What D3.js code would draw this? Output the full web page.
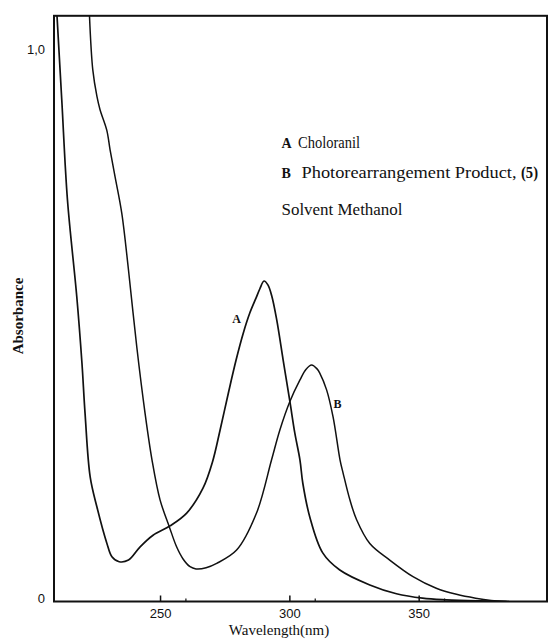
<!DOCTYPE html>
<html><head><meta charset="utf-8">
<script src="https://cdn.jsdelivr.net/npm/d3@7"></script>
<style>body{margin:0;background:#fff}</style>
</head><body>
<svg id="chart" width="549" height="641"></svg>
<script>
// ---- data ----
const wavelengthA = [210.1, 212.0, 214.2, 217.8, 219.8, 221.0, 223.0, 225.6, 229.4, 231.4, 234.2, 237.8, 242.3, 247.3, 253.9, 260.3, 266.6, 270.3, 273.2, 276.4, 279.4, 282.2, 284.7, 287.1, 288.6, 290.2, 291.7, 293.2, 295.1, 297.6, 300.2, 302.1, 304.1, 305.2, 307.9, 312.9, 319.5, 331.1, 341.4, 351.5, 360.7, 373.6, 385.0];
const absorbanceA = [1.065, 0.908, 0.727, 0.552, 0.432, 0.341, 0.225, 0.171, 0.106, 0.081, 0.072, 0.075, 0.099, 0.120, 0.137, 0.160, 0.205, 0.253, 0.310, 0.377, 0.437, 0.486, 0.522, 0.549, 0.566, 0.580, 0.573, 0.553, 0.510, 0.437, 0.362, 0.305, 0.256, 0.214, 0.153, 0.088, 0.057, 0.030, 0.014, 0.006, 0.003, 0.001, 0.000];

const wavelengthB = [222.7, 224.0, 225.6, 226.8, 229.4, 230.7, 232.6, 235.2, 237.8, 241.0, 244.2, 246.9, 250.0, 253.6, 256.4, 258.9, 261.6, 263.9, 267.8, 271.9, 279.6, 287.3, 293.1, 296.3, 300.2, 304.1, 306.4, 308.6, 310.7, 311.8, 314.4, 316.9, 319.6, 320.8, 323.4, 326.0, 331.1, 338.8, 347.8, 356.8, 364.6, 372.0, 378.0, 384.0];
const absorbanceB = [1.062, 0.962, 0.914, 0.890, 0.853, 0.817, 0.769, 0.703, 0.600, 0.461, 0.341, 0.256, 0.184, 0.135, 0.099, 0.077, 0.063, 0.059, 0.061, 0.069, 0.093, 0.160, 0.256, 0.310, 0.362, 0.401, 0.420, 0.428, 0.421, 0.413, 0.383, 0.334, 0.256, 0.232, 0.184, 0.148, 0.105, 0.075, 0.045, 0.024, 0.013, 0.006, 0.002, 0.000];

const xTicks = [250, 300, 350];
const xMinorTicks = [260, 310, 360];
const yTicks = [0, 1.0];
const yTickLabels = ["0", "1,0"];
const seriesKeys = ["A", "B"];
const seriesNames = ["Choloranil", "Photorearrangement Product,"];
const compoundNo = "(5)";
const solventNote = "Solvent Methanol";
const xTitle = "Wavelength(nm)";
const yTitle = "Absorbance";

// ---- chart ----
const svg = d3.select("#chart");
svg.append("rect").attr("width", 549).attr("height", 641).attr("fill", "#fff");

const x = d3.scaleLinear().domain([209, 400]).range([54, 548]);
const y = d3.scaleLinear().domain([0, 1.06]).range([601.5, 15.8]);
const ink = "#111";

svg.append("clipPath").attr("id", "plot")
  .append("rect").attr("x", 54).attr("y", 15.8).attr("width", 494).attr("height", 585.7);

const line = d3.line().x(d => x(d[0])).y(d => y(d[1])).curve(d3.curveCatmullRom.alpha(0.5));
const seriesA = wavelengthA.map((w, i) => [w, absorbanceA[i]]);
const seriesB = wavelengthB.map((w, i) => [w, absorbanceB[i]]);

const gLines = svg.append("g").attr("clip-path", "url(#plot)");
gLines.append("path").datum(seriesA).attr("d", line)
  .attr("fill", "none").attr("stroke", ink).attr("stroke-width", 1.7).attr("stroke-linejoin", "round");
gLines.append("path").datum(seriesB).attr("d", line)
  .attr("fill", "none").attr("stroke", ink).attr("stroke-width", 1.5).attr("stroke-linejoin", "round");

// frame
svg.append("rect").attr("x", 54).attr("y", 15.8).attr("width", 493).attr("height", 585.7)
  .attr("fill", "none").attr("stroke", ink).attr("stroke-width", 2);

// x axis
const xAxis = svg.append("g").attr("transform", `translate(0,${y(0)})`)
  .call(d3.axisBottom(x).tickValues(xTicks).tickSize(-6).tickPadding(7).tickFormat(d3.format("d")));
xAxis.select(".domain").remove();
xAxis.selectAll(".tick line").attr("stroke", ink).attr("stroke-width", 1.5);
xAxis.selectAll(".tick text").attr("fill", ink).style("font-family", "'Liberation Sans', Arial, sans-serif").style("font-size", "13px");
svg.append("g").selectAll("line").data(xMinorTicks).join("line")
  .attr("x1", d => x(d)).attr("x2", d => x(d)).attr("y1", y(0)).attr("y2", y(0) - 3)
  .attr("stroke", ink).attr("stroke-width", 1.2);

// y axis
const yAxis = svg.append("g").attr("transform", `translate(${x(209)},0)`)
  .call(d3.axisLeft(y).tickValues(yTicks).tickSize(0).tickPadding(9).tickFormat((d, i) => yTickLabels[i]));
yAxis.select(".domain").remove();
yAxis.selectAll(".tick text").attr("fill", ink).style("font-family", "'Liberation Sans', Arial, sans-serif").style("font-size", "13px");
yAxis.selectAll(".tick").filter(d => d === 0).select("text").attr("dy", "0.05em");

// axis titles
const serif = "'Liberation Serif', 'Times New Roman', serif";
svg.append("text").attr("x", 279).attr("y", 635).attr("text-anchor", "middle")
  .attr("fill", ink).style("font-family", serif).style("font-size", "15px")
  .text(xTitle);
svg.append("text").attr("transform", "translate(23,316) rotate(-90)").attr("text-anchor", "middle")
  .attr("fill", ink).style("font-family", serif).style("font-size", "15px").style("font-weight", "bold")
  .text(yTitle);

// legend text block
const leg = svg.append("g").attr("fill", ink).style("font-family", serif).style("font-size", "16px");
leg.append("text").attr("x", 281.5).attr("y", 148).style("font-weight", "bold").style("font-size", "14px").text(seriesKeys[0]);
leg.append("text").attr("x", 298).attr("y", 148).attr("textLength", 62).attr("lengthAdjust", "spacingAndGlyphs").text(seriesNames[0]);
leg.append("text").attr("x", 281.5).attr("y", 178).style("font-weight", "bold").style("font-size", "14px").text(seriesKeys[1]);
leg.append("text").attr("x", 301.5).attr("y", 178).attr("textLength", 215).attr("lengthAdjust", "spacingAndGlyphs").text(seriesNames[1]);
leg.append("text").attr("x", 521).attr("y", 178).style("font-weight", "bold").attr("textLength", 17).attr("lengthAdjust", "spacingAndGlyphs").text(compoundNo);
leg.append("text").attr("x", 281.5).attr("y", 215).attr("textLength", 121).attr("lengthAdjust", "spacingAndGlyphs").text(solventNote);

// curve labels
const lab = svg.append("g").attr("fill", ink).style("font-family", serif).style("font-size", "12px").style("font-weight", "bold").attr("text-anchor", "middle");
lab.append("text").attr("x", x(279.6)).attr("y", y(0.504)).text(seriesKeys[0]);
lab.append("text").attr("x", x(318.6)).attr("y", y(0.350)).text(seriesKeys[1]);
</script>
</body></html>
